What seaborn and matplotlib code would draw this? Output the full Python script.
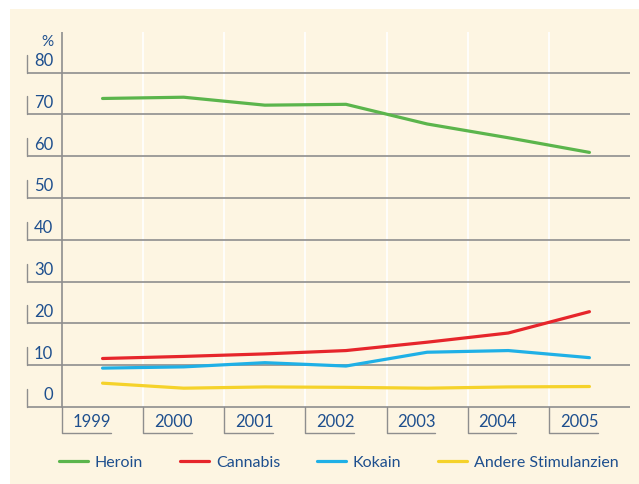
import pandas as pd
import matplotlib.pyplot as plt
import seaborn as sns
from matplotlib.patches import Rectangle

# Daten (Anteil in %)
years = ['1999', '2000', '2001', '2002', '2003', '2004', '2005']
heroin = [73.8, 74.1, 72.2, 72.4, 67.7, 64.4, 60.9]
cannabis = [11.6, 12.1, 12.7, 13.5, 15.5, 17.7, 22.8]
kokain = [9.3, 9.6, 10.6, 9.8, 13.1, 13.5, 11.8]
andere = [5.7, 4.5, 4.8, 4.7, 4.5, 4.8, 4.9]
series_names = ['Heroin', 'Cannabis', 'Kokain', 'Andere Stimulanzien']
y_ticks = [0, 10, 20, 30, 40, 50, 60, 70, 80]

colors = ['#5bb54c', '#e6252b', '#1fb0e6', '#f5d22a']
txt_col = '#1e4f8e'
grid_col = '#8e8e8e'
cream = '#fdf5e2'

df = pd.DataFrame({'Jahr': years * 4,
                   'Wert': heroin + cannabis + kokain + andere,
                   'Droge': [n for n in series_names for _ in years]})

sns.set_style('white')
plt.rcParams['font.family'] = ['Lato', 'DejaVu Sans']

W, H = 639, 485
fig = plt.figure(figsize=(W / 100, H / 100), dpi=100, facecolor='white')
fig.patches.append(Rectangle((10 / W, 0), 1, (H - 10) / H, transform=fig.transFigure,
                             facecolor=cream, edgecolor='none', zorder=-10))

# Achse in Pixeln: x 27..630, y 33..434
ax = fig.add_axes([27 / W, 1 - 434 / H, (630 - 27) / W, (434 - 33) / H])
ax.set_facecolor('none')

sns.lineplot(data=df, x='Jahr', y='Wert', hue='Droge', palette=colors,
             linewidth=2.3, ax=ax, zorder=5, sort=False)

xl, xr = -0.931, 6.5
yb, yt = -6.22, 89.7
ax.set_xlim(xl, xr)
ax.set_ylim(yb, yt)
ax.axis('off')

# vertikale weisse Linien
for i in range(1, 7):
    ax.plot([i - 0.5, i - 0.5], [0, yt], color='white', lw=1.2, zorder=1)
# linke Achse
ax.plot([-0.5, -0.5], [0, yt], color=grid_col, lw=1.2, zorder=2)

# Gitterlinien + y-Beschriftung
for v in y_ticks:
    ax.plot([xl, xr], [v, v], color=grid_col, lw=1.2, zorder=2)
    ax.plot([xl, xl], [v, v + 4.3], color=grid_col, lw=1.0, zorder=2, clip_on=False)
    ax.text(-0.61, v + 3.0, str(v), ha='right', va='center', color=txt_col, fontsize=12)
ax.text(-0.61, 87.6, '%', ha='right', va='center', color=txt_col, fontsize=11)

# x-Beschriftung mit Klammern
for i, yr in enumerate(years):
    x0 = i - 0.5
    ax.plot([x0, x0, x0 + 0.6], [0, yb, yb], color=grid_col, lw=1.0, zorder=2, clip_on=False)
    ax.text(x0 + 0.135, -3.3, yr, ha='left', va='center', color=txt_col, fontsize=12)

handles, labels = ax.get_legend_handles_labels()
ax.get_legend().remove()
leg = fig.legend(handles, labels, loc='center left', bbox_to_anchor=(59 / W, 1 - 463 / H),
                 ncol=4, frameon=False, fontsize=11.5, handlelength=1.8,
                 handletextpad=0.45, columnspacing=2.3, borderpad=0, borderaxespad=0)
for t in leg.get_texts():
    t.set_color(txt_col)

fig.savefig('out.png', dpi=100, facecolor='white')
